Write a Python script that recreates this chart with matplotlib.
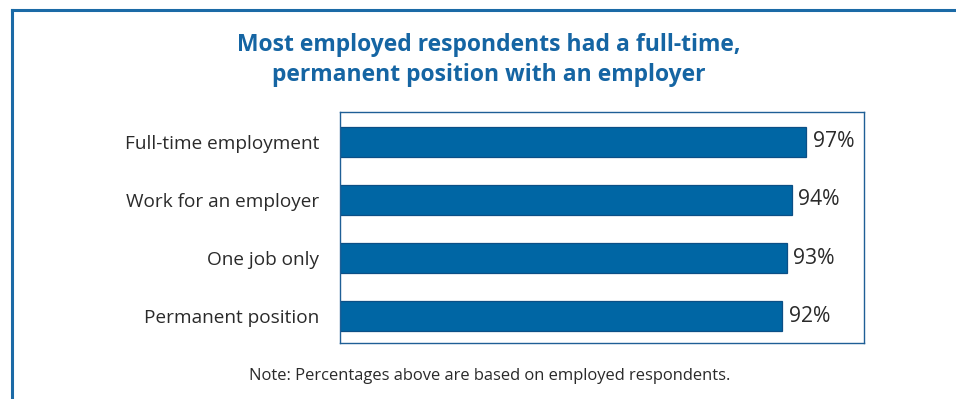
import matplotlib
matplotlib.use("Agg")
import matplotlib.pyplot as plt
from matplotlib.lines import Line2D

plt.rcParams['font.family'] = ['Open Sans', 'DejaVu Sans']

# survey results, employed respondents only
categories = ['Full-time employment', 'Work for an employer', 'One job only', 'Permanent position']
percents = [97, 94, 93, 92]

title_text = 'Most employed respondents had a full-time,\npermanent position with an employer'
note_text = 'Note: Percentages above are based on employed respondents.'

blue = '#0066a4'
edge = '#0b4f86'
frame_blue = '#1b6aa6'
text_dark = '#2a2a2a'

W, H = 956, 399
fig = plt.figure(figsize=(W / 100, H / 100), dpi=100)

# outer panel border: left and top edges only
fig.add_artist(Line2D([12 / W, 12 / W], [0, 1 - 10 / H], transform=fig.transFigure,
                      color=frame_blue, lw=2.2, solid_capstyle='projecting'))
fig.add_artist(Line2D([12 / W, 1], [1 - 10 / H, 1 - 10 / H], transform=fig.transFigure,
                      color=frame_blue, lw=2.2, solid_capstyle='projecting'))

ax = fig.add_axes([340 / W, (H - 343) / H, 524 / W, 231 / H])
y = range(len(categories))
ax.barh(y, percents, height=0.52, color=blue, edgecolor=edge, linewidth=0.9)
ax.set_xlim(0, 109)
ax.set_ylim(3.46, -0.51)
ax.set_xticks([])
ax.set_yticks(list(y))
ax.set_yticklabels(categories, fontsize=13.7, color=text_dark)
ax.tick_params(axis='y', length=0, pad=15)
for s in ax.spines.values():
    s.set_color('#1f5f96')
    s.set_linewidth(1.0)

for i, v in enumerate(percents):
    ax.text(v + 1.3, i, f'{v}%', va='center', ha='left', fontsize=15.2, color=text_dark)

fig.text(489 / W, 1 - 60 / H, title_text, ha='center', va='center', fontsize=16.5,
         fontweight='bold', color='#1565a3', linespacing=1.35)
fig.text(490 / W, 1 - 376 / H, note_text, ha='center', va='center', fontsize=11.9,
         color=text_dark)

fig.savefig('out.png', dpi=100)
